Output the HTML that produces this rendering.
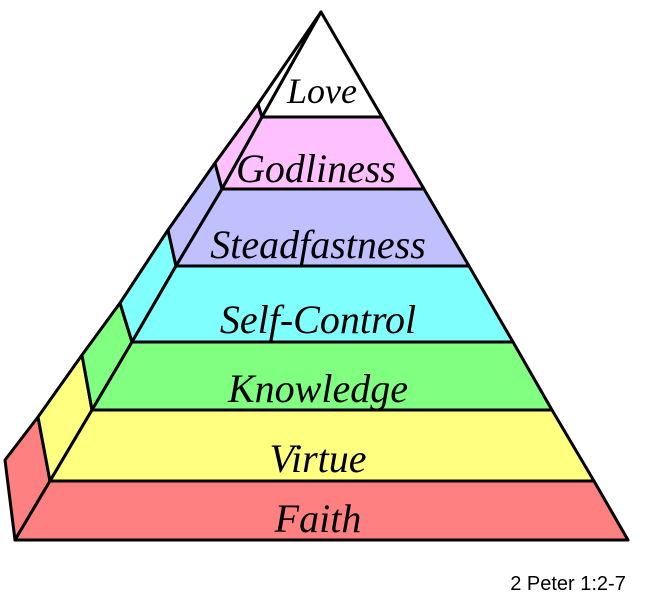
<!DOCTYPE html>
<html><head><style>
html,body{margin:0;padding:0;background:#fff;}
svg{display:block}
text{font-family:"Liberation Serif",serif;font-style:italic;}
</style></head><body>
<svg width="647" height="601" viewBox="0 0 647 601" xmlns="http://www.w3.org/2000/svg">
<g stroke="#000" stroke-width="3" stroke-linejoin="round">
<polygon points="15,540 5,460 38,417 50,481" fill="#ff8080"/>
<polygon points="50,481 38,417 82,355 92,410" fill="#ffff80"/>
<polygon points="92,410 82,355 120,303 132,342" fill="#80ff80"/>
<polygon points="132,342 120,303 168,230 176,266" fill="#80ffff"/>
<polygon points="176,266 168,230 215,163 222,189" fill="#c0c0ff"/>
<polygon points="222,189 215,163 258,104 262,117" fill="#ffc0ff"/>
<polygon points="262,117 258,104 321,12" fill="#fff"/>
<polygon points="50,481 15,540 628,540 594,481" fill="#ff8080"/>
<polygon points="92,410 50,481 594,481 552,410" fill="#ffff80"/>
<polygon points="132,342 92,410 552,410 513,342" fill="#80ff80"/>
<polygon points="176,266 132,342 513,342 469,266" fill="#80ffff"/>
<polygon points="222,189 176,266 469,266 424,189" fill="#c0c0ff"/>
<polygon points="262,117 222,189 424,189 382,117" fill="#ffc0ff"/>
<polygon points="321,12 262,117 382,117" fill="#fff"/>
</g>
<g font-size="40" text-anchor="middle" fill="#000">
<text x="322" y="103" font-size="36">Love</text>
<text x="316" y="182">Godliness</text>
<text x="318" y="258">Steadfastness</text>
<text x="318" y="333">Self-Control</text>
<text x="318" y="402">Knowledge</text>
<text x="318" y="472">Virtue</text>
<text x="318" y="532">Faith</text>
</g>
<text x="568" y="590" font-size="20" text-anchor="middle" style="font-family:'Liberation Sans',sans-serif;font-style:normal;">2 Peter 1:2-7</text>
</svg>
</body></html>
